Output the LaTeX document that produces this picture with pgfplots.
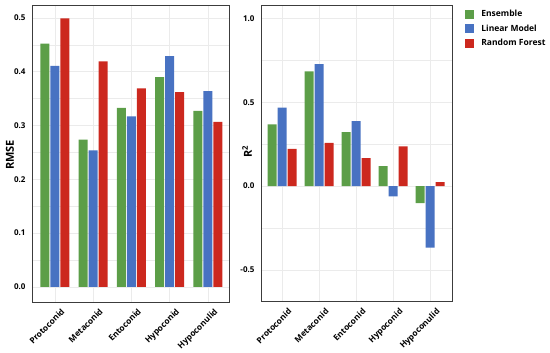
\documentclass[border=0pt]{standalone}
\usepackage{pgfplots}
\pgfplotsset{compat=1.18}
\usepackage{fontspec}
\setmainfont{Open Sans}
\definecolor{cgreen}{RGB}{92,158,72}
\definecolor{cblue}{RGB}{72,114,194}
\definecolor{cred}{RGB}{204,40,30}
\definecolor{frame}{RGB}{60,60,60}
\pgfplotsset{
  common/.style={
    scale only axis, anchor=south west,
    ybar=1pt, bar width=9pt,
    axis line style={frame, line width=0.9pt},
    major tick length=0pt, minor tick length=0pt,
    xtick={0,1,2,3,4},
    xticklabels={Protoconid,Metaconid,Entoconid,Hypoconid,Hypoconulid},
    xticklabel style={rotate=45, anchor=north east, font=\bfseries\fontsize{8.3}{10}\selectfont, inner sep=1pt, yshift=-7pt, xshift=1pt},
    yticklabel style={font=\bfseries\fontsize{8}{10}\selectfont, xshift=-3pt, /pgf/number format/.cd, fixed, fixed zerofill, precision=1},
    /pgf/number format/assume math mode=true,
    grid=both, major grid style={black!8, line width=0.5pt}, minor grid style={black!8, line width=0.5pt},
    minor y tick num=1,
    ylabel style={font=\bfseries\fontsize{11}{13}\selectfont, anchor=center},
    every axis plot/.append style={draw=none},
  }
}
\begin{document}
\begin{tikzpicture}
\useasboundingbox (0,0) rectangle (550pt,353pt);
\begin{axis}[common,
  at={(32pt,51pt)}, width=197pt, height=297pt,
  xmin=-0.6, xmax=4.55, ymin=-0.028, ymax=0.524,
  ytick={0,0.1,0.2,0.3,0.4,0.5},
  ylabel={RMSE},
  ylabel style={at={(axis description cs:-0.112,0.495)}},
]
\addplot[fill=cgreen] coordinates {(0,0.452) (1,0.274) (2,0.333) (3,0.390) (4,0.327)};
\addplot[fill=cblue] coordinates {(0,0.411) (1,0.254) (2,0.317) (3,0.429) (4,0.364)};
\addplot[fill=cred] coordinates {(0,0.499) (1,0.419) (2,0.369) (3,0.362) (4,0.307)};
\end{axis}
\begin{axis}[common,
  at={(261pt,51.3pt)}, width=191.7pt, height=296.7pt,
  xmin=-0.57, xmax=4.61, ymin=-0.689, ymax=1.079,
  ytick={-0.5,0,0.5,1},
  ylabel={R\textsuperscript{2}},
  ylabel style={at={(axis description cs:-0.073,0.505)}},
  legend style={at={(1.065,0.99)}, anchor=north west, draw=none, fill=none, inner sep=0pt, row sep=2.5pt,
    font=\bfseries\fontsize{8.5}{10}\selectfont, cells={anchor=west}},
  legend image code/.code={\fill[#1] (0pt,-4.5pt) rectangle (9pt,4.5pt); \path (14pt,0pt);},
]
\addplot[fill=cgreen] coordinates {(0,0.367) (1,0.683) (2,0.321) (3,0.119) (4,-0.101)};
\addplot[fill=cblue] coordinates {(0,0.468) (1,0.726) (2,0.387) (3,-0.061) (4,-0.367)};
\addplot[fill=cred] coordinates {(0,0.222) (1,0.258) (2,0.167) (3,0.236) (4,0.024)};
\legend{Ensemble, Linear Model, Random Forest}
\end{axis}
\end{tikzpicture}
\end{document}
